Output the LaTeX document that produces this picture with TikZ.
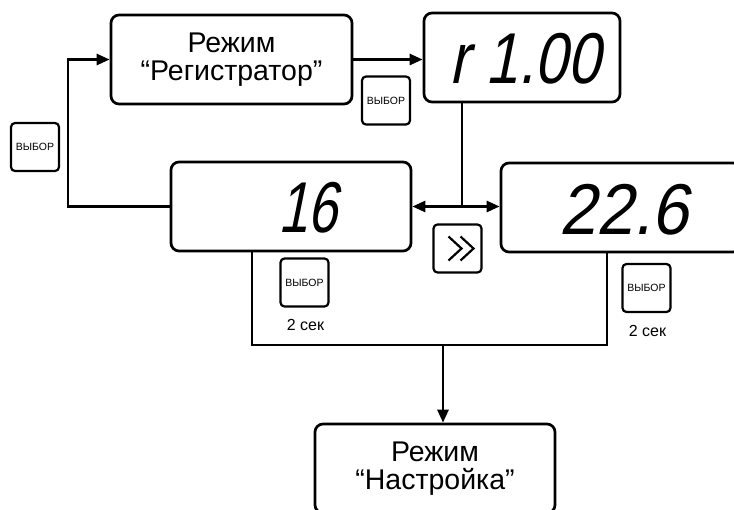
\documentclass[tikz,border=0pt]{standalone}
\usepackage{fontspec}
\setmainfont{Liberation Sans}
\newfontfamily\segfont[FakeSlant=0.2,FakeStretch=0.82]{Liberation Sans}
\newfontfamily\segwide[FakeSlant=0.2,FakeStretch=0.92]{Liberation Sans}
\newfontfamily\segnarrow[FakeSlant=0.2,FakeStretch=0.74]{Liberation Sans}
\usetikzlibrary{arrows.meta}
\begin{document}
\begin{tikzpicture}[x=1pt,y=-1pt,
  line width=2.7pt,
  modebox/.style={draw,rounded corners=8pt,minimum width=241pt,minimum height=89pt,inner sep=0pt,align=center,font=\fontsize{28.5}{28}\selectfont},
  dispbox/.style={draw,rounded corners=8pt,minimum height=89pt,inner sep=0pt},
  seg/.style={font=\segfont\fontsize{72}{72}\selectfont,inner sep=0pt},
  segw/.style={font=\segwide\fontsize{72}{72}\selectfont,inner sep=0pt},
  segn/.style={font=\segnarrow\fontsize{72}{72}\selectfont,inner sep=0pt},
  btn/.style={draw,rounded corners=4pt,minimum width=48pt,minimum height=48pt,inner sep=0pt,line width=2.2pt,font=\fontsize{10.5}{11}\selectfont},
  captxt/.style={font=\fontsize{16}{16}\selectfont,inner sep=0pt},
  arr/.style={-{Triangle[length=13pt,width=11pt]}},
  dblarr/.style={{Triangle[length=13pt,width=11pt]}-{Triangle[length=13pt,width=11pt]}},
  chev/.style={line width=2.2pt},
]
\useasboundingbox (0,0) rectangle (734,509);
\clip (0,0) rectangle (734,509);

% mode boxes
\node[modebox] (reg) at (231.5,59.5) {Режим\\“Регистратор”};
\node[modebox,minimum width=240pt] (nast) at (435,468.5) {Режим\\“Настройка”};

% display boxes
\node[dispbox,minimum width=196pt] (r100) at (522,57.5) {};
\node[dispbox,minimum width=240pt] (d16) at (291,206.5) {};
\node[dispbox,minimum width=240pt] (d226) at (621,207.5) {};

% display digits
\node[seg] (t100) at (525,59) {r 1.00};
\node[segn] (t16) at (308,208) {16};
\node[segw] (t226) at (624,210) {22.6};

% buttons
\node[btn] (b1) at (35,147) {ВЫБОР};
\node[btn] (b2) at (386,100.5) {ВЫБОР};
\node[btn] (b3) at (304.5,282.5) {ВЫБОР};
\node[btn] (b4) at (646.5,288) {ВЫБОР};
\node[btn] (ff) at (457.5,248.5) {};
\draw[chev] ([shift={(-9,-12)}]ff.center) -- ([shift={(4,0)}]ff.center) -- ([shift={(-9,12)}]ff.center);
\draw[chev] ([shift={(3,-12)}]ff.center) -- ([shift={(16,0)}]ff.center) -- ([shift={(3,12)}]ff.center);

% captions
\node[captxt] (c3) at (305.5,325) {2 сек};
\node[captxt] (c4) at (647.5,330.5) {2 сек};

% connectors
\coordinate (FL) at (68,206.5);
\draw[arr] (d16.west) -- (FL) |- (reg.west);
\draw[arr] (reg.east) -- (reg.east -| r100.west);
\coordinate (J) at (462,206.5);
\draw (J |- r100.south) -- (J);
\draw[dblarr] (d16.east) -- (d16.east -| d226.west);

\coordinate (L) at (252,345);
\coordinate (R) at (607,345);
\coordinate (M) at (443,345);
\draw (L |- d16.south) -- (L) -- (R) -- (R |- d226.south);
\draw[arr] (M) -- (M |- nast.north);
\end{tikzpicture}
\end{document}
